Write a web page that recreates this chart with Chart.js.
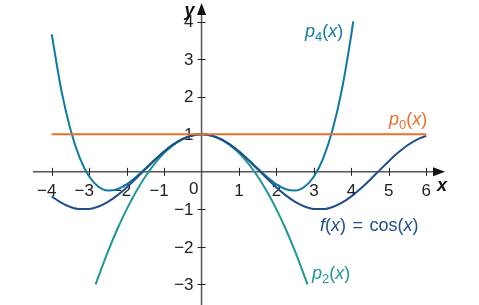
<!DOCTYPE html>
<html>
<head>
<meta charset="utf-8">
<script src="https://cdn.jsdelivr.net/npm/chart.js@4/dist/chart.umd.min.js"></script>
<style>
  html, body { margin: 0; padding: 0; background: #fff; }
  #wrap { width: 479px; height: 305px; position: relative; }
</style>
</head>
<body>
<div id="wrap"><canvas id="c"></canvas></div>
<script>
// ── Data ───────────────────────────────────────────────────────────────────
const COS_X = [-4, -3.75, -3.5, -3.25, -3, -2.75, -2.5, -2.25, -2, -1.75, -1.5, -1.25, -1, -0.75, -0.5, -0.25,
  0, 0.25, 0.5, 0.75, 1, 1.25, 1.5, 1.75, 2, 2.25, 2.5, 2.75, 3, 3.25, 3.5, 3.75, 4, 4.25, 4.5, 4.75, 5, 5.25, 5.5, 5.75, 6];
const COS_Y = [-0.654, -0.821, -0.937, -0.994, -0.990, -0.924, -0.801, -0.628, -0.416, -0.178, 0.071, 0.315, 0.540, 0.732, 0.878, 0.969,
  1, 0.969, 0.878, 0.732, 0.540, 0.315, 0.071, -0.178, -0.416, -0.628, -0.801, -0.924, -0.990, -0.994, -0.937, -0.821, -0.654, -0.446, -0.211, 0.038, 0.284, 0.512, 0.709, 0.861, 0.960];

const P0_X = [-4, 6];
const P0_Y = [1, 1];

const P2_X = [-2.83, -2.5, -2.25, -2, -1.75, -1.5, -1.25, -1, -0.75, -0.5, -0.25, 0, 0.25, 0.5, 0.75, 1, 1.25, 1.5, 1.75, 2, 2.25, 2.5, 2.83];
const P2_Y = [-3.0, -2.125, -1.531, -1, -0.531, -0.125, 0.219, 0.5, 0.719, 0.875, 0.969, 1, 0.969, 0.875, 0.719, 0.5, 0.219, -0.125, -0.531, -1, -1.531, -2.125, -3.0];

const P4_X = [-4, -3.75, -3.5, -3.25, -3, -2.75, -2.5, -2.25, -2, -1.75, -1.5, -1.25, -1, -0.75, -0.5, -0.25,
  0, 0.25, 0.5, 0.75, 1, 1.25, 1.5, 1.75, 2, 2.25, 2.5, 2.75, 3, 3.25, 3.5, 3.75, 4, 4.05];
const P4_Y = [3.667, 2.209, 1.128, 0.368, -0.125, -0.398, -0.497, -0.463, -0.333, -0.140, 0.086, 0.320, 0.542, 0.732, 0.878, 0.969,
  1, 0.969, 0.878, 0.732, 0.542, 0.320, 0.086, -0.140, -0.333, -0.463, -0.497, -0.398, -0.125, 0.368, 1.128, 2.209, 3.667, 4.01];

const X_TICKS = [-4, -3, -2, -1, 1, 2, 3, 4, 5, 6];
const Y_TICKS = [-3, -2, -1, 1, 2, 3, 4];

// ── Palette ────────────────────────────────────────────────────────────────
const COLORS = {
  cos: '#1f4e8c',
  p0:  '#e8702a',
  p2:  '#1f9894',
  p4:  '#0f7aa3',
  axis: '#555555',
  text: '#222222',
};

const FONT = "'Liberation Sans', Arial, sans-serif";

const pts = (xs, ys) => xs.map((x, i) => ({ x, y: ys[i] }));

function series(xs, ys, color) {
  return {
    data: pts(xs, ys),
    borderColor: color,
    borderWidth: 2,
    pointRadius: 0,
    fill: false,
    cubicInterpolationMode: 'monotone',
  };
}

// draw text made of [text, font, dy] parts, starting at x
function drawRich(ctx, x, y, parts, color) {
  ctx.fillStyle = color;
  ctx.textAlign = 'left';
  ctx.textBaseline = 'alphabetic';
  let cx = x;
  for (const [t, f, dy] of parts) {
    ctx.font = f;
    ctx.fillText(t, cx, y + (dy || 0));
    cx += ctx.measureText(t).width;
  }
}

const IT = 'italic 18px ' + FONT;
const RG = '18px ' + FONT;
const SUB = '13px ' + FONT;

// ── Axes, ticks and labels ────────────────────────────────────────────────
const axesPlugin = {
  id: 'mathAxes',
  beforeDatasetsDraw(chart) {
    const { ctx, chartArea: a, scales: { x, y } } = chart;
    const x0 = x.getPixelForValue(0);
    const y0 = y.getPixelForValue(0);
    ctx.save();
    ctx.strokeStyle = COLORS.axis;
    ctx.lineWidth = 1.5;
    ctx.beginPath();
    ctx.moveTo(a.left, y0); ctx.lineTo(a.right - 6, y0);
    ctx.moveTo(x0, a.bottom); ctx.lineTo(x0, a.top + 6);
    ctx.stroke();

    // arrowheads
    ctx.fillStyle = '#111';
    ctx.beginPath();
    ctx.moveTo(a.right, y0); ctx.lineTo(a.right - 12, y0 - 4.5); ctx.lineTo(a.right - 12, y0 + 4.5);
    ctx.closePath(); ctx.fill();
    ctx.beginPath();
    ctx.moveTo(x0, a.top); ctx.lineTo(x0 - 4.5, a.top + 12); ctx.lineTo(x0 + 4.5, a.top + 12);
    ctx.closePath(); ctx.fill();

    // ticks
    ctx.strokeStyle = '#222';
    ctx.lineWidth = 1;
    ctx.beginPath();
    X_TICKS.forEach(v => {
      const px = Math.round(x.getPixelForValue(v)) + 0.5;
      ctx.moveTo(px, y0 - 4); ctx.lineTo(px, y0 + 4);
    });
    Y_TICKS.forEach(v => {
      const py = Math.round(y.getPixelForValue(v)) + 0.5;
      ctx.moveTo(x0 - 4, py); ctx.lineTo(x0 + 4, py);
    });
    ctx.stroke();

    // tick labels
    ctx.fillStyle = COLORS.text;
    ctx.font = '17px ' + FONT;
    ctx.textBaseline = 'alphabetic';
    ctx.textAlign = 'center';
    X_TICKS.forEach(v => {
      const lbl = v < 0 ? '\u2212' + Math.abs(v) : String(v);
      const off = v < 0 ? -5 : 0;
      ctx.fillText(lbl, x.getPixelForValue(v) + off, y0 + 24);
    });
    ctx.textAlign = 'right';
    ctx.fillText('0', x0 - 3, y0 + 22);
    ctx.textBaseline = 'middle';
    Y_TICKS.forEach(v => {
      const lbl = v < 0 ? '\u2212' + Math.abs(v) : String(v);
      ctx.fillText(lbl, x0 - 8, y.getPixelForValue(v) + 1);
    });

    // axis names
    ctx.font = 'italic bold 18px ' + FONT;
    ctx.textBaseline = 'alphabetic';
    ctx.textAlign = 'left';
    ctx.fillStyle = '#111';
    ctx.fillText('y', x0 - 17, a.top + 13);
    ctx.fillText('x', a.right - 8, y0 + 19);
    ctx.restore();
  },
  afterDatasetsDraw(chart) {
    const { ctx } = chart;
    ctx.save();
    drawRich(ctx, 305, 37, [['p', IT], ['4', SUB, 4], ['(', RG], ['x', IT], [')', RG]], COLORS.p4);
    drawRich(ctx, 389, 125, [['p', IT], ['0', SUB, 4], ['(', RG], ['x', IT], [')', RG]], COLORS.p0);
    drawRich(ctx, 320, 231, [['f', IT], ['(', RG], ['x', IT], [') \u200A= \u200Acos(', RG], ['x', IT], [')', RG]], COLORS.cos);
    drawRich(ctx, 312, 279, [['p', IT], ['2', SUB, 4], ['(', RG], ['x', IT], [')', RG]], COLORS.p2);
    ctx.restore();
  },
};

new Chart(document.getElementById('c'), {
  type: 'line',
  data: {
    datasets: [
      series(P0_X, P0_Y, COLORS.p0),
      series(COS_X, COS_Y, COLORS.cos),
      series(P4_X, P4_Y, COLORS.p4),
      series(P2_X, P2_Y, COLORS.p2),
    ],
  },
  options: {
    responsive: true,
    maintainAspectRatio: false,
    animation: false,
    layout: { padding: { left: 33, right: 34, top: 3, bottom: 0 } },
    plugins: { legend: { display: false }, tooltip: { enabled: false } },
    scales: {
      x: { type: 'linear', min: -4.5, max: 6.5, display: false },
      y: { type: 'linear', min: -3.55, max: 4.5, display: false },
    },
  },
  plugins: [axesPlugin],
});
</script>
</body>
</html>
